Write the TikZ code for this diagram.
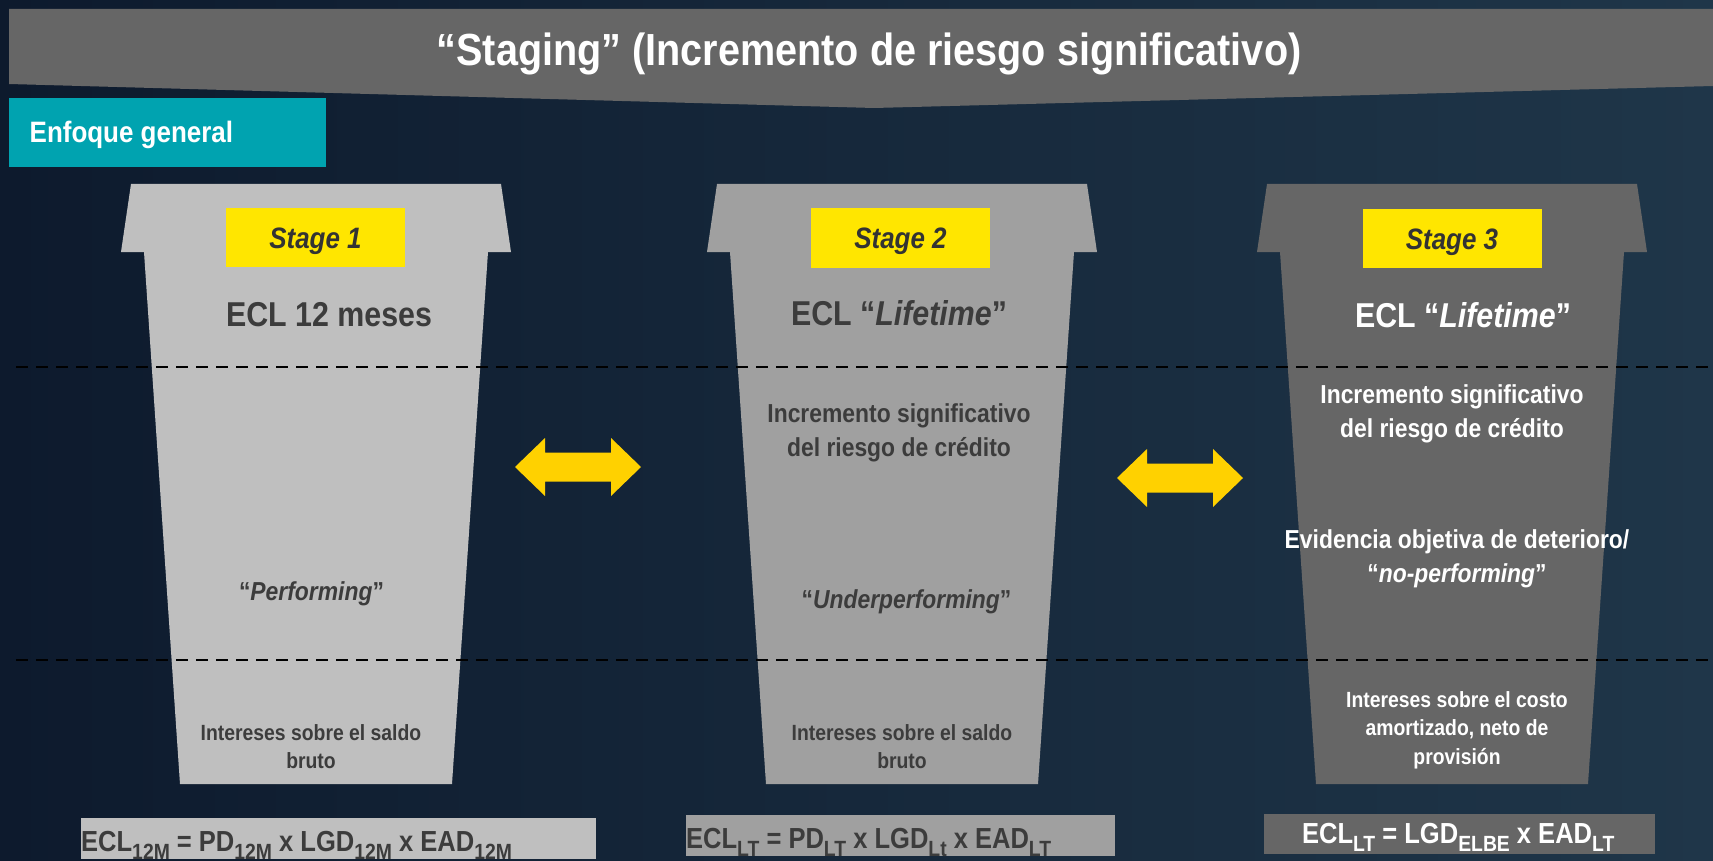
\documentclass[tikz,border=0pt]{standalone}
\usepackage{fontspec}
\setmainfont{Liberation Sans}[FakeStretch=0.88]
\usetikzlibrary{positioning,calc}
\definecolor{fondoA}{HTML}{0D1A2D}
\definecolor{fondoB}{HTML}{1F3649}
\definecolor{gris1}{HTML}{BFBFBF}
\definecolor{gris2}{HTML}{A0A0A0}
\definecolor{gris3}{HTML}{666666}
\definecolor{amarillo}{HTML}{FFE600}
\definecolor{flecha}{HTML}{FFD100}
\definecolor{turquesa}{HTML}{00A3B0}
\definecolor{oscuro}{HTML}{3C3C3C}
\newcommand{\sz}[2]{\fontsize{#1}{#2}\selectfont\bfseries}
\newcommand{\subtxt}[1]{\raisebox{-8pt}{\fontsize{22}{22}\selectfont #1}}
\newcommand{\vaso}[2]{\fill[#2] ({#1-185},184) -- ({#1+185},184) -- ({#1+195},252) -- ({#1+172},252) -- ({#1+136},784) -- ({#1-136},784) -- ({#1-172},252) -- ({#1-195},252) -- cycle;}
\newcommand{\flechas}[2]{\fill[flecha] ({#1-63},#2) -- ++(30,-29) -- ++(0,14.5) -- ++(66,0) -- ++(0,-14.5) -- ++(30,29) -- ++(-30,29) -- ++(0,-14.5) -- ++(-66,0) -- ++(0,14.5) -- cycle;}
\tikzstyle{etapa} = [fill=amarillo, minimum width=179pt, minimum height=59pt, inner sep=0pt, text height=21pt, text depth=0pt, font=\sz{29.5}{32}\itshape, text=oscuro!85!black]
\tikzstyle{ecl} = [font=\sz{34.5}{40}, anchor=base, inner sep=0pt]
\tikzstyle{txt} = [font=\sz{26}{34}, align=center, anchor=base, inner sep=0pt]
\tikzstyle{chico} = [font=\sz{22}{28.5}, align=center, anchor=base, inner sep=0pt]
\tikzstyle{corte} = [dash pattern=on 12pt off 8pt, line width=2.5pt, black]
\tikzstyle{formula} = [inner sep=0pt, anchor=north west]
\tikzstyle{ftxt} = [font=\sz{29}{30}, inner sep=0pt]
\begin{document}
\begin{tikzpicture}[x=1pt, y=-1pt]
	\useasboundingbox (0,0) rectangle (1713,861);
	\shade[left color=fondoA, right color=fondoB] (0,0) rectangle (1713,861);
	% banner
	\fill[gris3] (9,9) -- (1713,9) -- (1713,86) -- (874,108) -- (9,84) -- cycle;
	\node (titulo) [font=\sz{45}{50}, text=white, anchor=base, inner sep=0pt] at (869,66) {``Staging'' (Incremento de riesgo significativo)};
	\fill[turquesa] (9,98) rectangle (326,167);
	\node (enfoque) [font=\sz{29.5}{32}, text=white, anchor=base west, inner sep=0pt] at (29.5,143) {Enfoque general};
	% vasos
	\vaso{316}{gris1}
	\vaso{902}{gris2}
	\vaso{1452}{gris3}
	\draw[corte] (16,367) -- (1713,367);
	\draw[corte] (16,660) -- (1713,660);
	% stage 1
	\node (s1) [etapa] at (315.5,237.5) {Stage 1};
	\node (ecl1) [ecl, text=oscuro] at (329,326) {ECL 12 meses};
	\node (perf) [txt, text=oscuro] at (311.5,600) {``\textit{Performing}''};
	\node (int1) [chico, text=oscuro] at (311,768.5) {Intereses sobre el saldo\\bruto};
	% stage 2
	\node (s2) [etapa] at (900.5,238) {Stage 2};
	\node (ecl2) [ecl, text=oscuro] at (899,325) {ECL ``\textit{Lifetime}''};
	\node (inc2) [txt, text=oscuro] at (899,456) {Incremento significativo\\del riesgo de crédito};
	\node (under) [txt, text=oscuro] at (906.5,608) {``\textit{Underperforming}''};
	\node (int2) [chico, text=oscuro] at (902,768.5) {Intereses sobre el saldo\\bruto};
	% stage 3
	\node (s3) [etapa] at (1452,238.5) {Stage 3};
	\node (ecl3) [ecl, text=white] at (1463,327) {ECL ``\textit{Lifetime}''};
	\node (inc3) [txt, text=white] at (1452,437) {Incremento significativo\\del riesgo de crédito};
	\node (evid) [txt, text=white] at (1457,582) {Evidencia objetiva de deterioro/\\``\textit{no-performing}''};
	\node (int3) [chico, text=white] at (1457,764) {Intereses sobre el costo\\amortizado, neto de\\provisión};
	% flechas
	\flechas{578}{467}
	\flechas{1180}{478}
	% formulas
	\node (f1) [formula, fill=gris1, minimum width=515pt, minimum height=41pt] at (81,818) {};
	\node (e1) [ftxt, text=oscuro, anchor=base west] at ([yshift=8pt]f1.south west) {ECL\subtxt{12M} = PD\subtxt{12M} x LGD\subtxt{12M} x EAD\subtxt{12M}};
	\node (f2) [formula, fill=gris2, minimum width=429pt, minimum height=41pt] at (686,815) {};
	\node (e2) [ftxt, text=oscuro, anchor=base west] at ([yshift=8pt]f2.south west) {ECL\subtxt{LT} = PD\subtxt{LT} x LGD\subtxt{Lt} x EAD\subtxt{LT}};
	\node (f3) [formula, fill=gris3, minimum width=391pt, minimum height=40pt] at (1264,814) {};
	\node (e3) [ftxt, text=white, anchor=base] at ([xshift=-1.5pt, yshift=11pt]f3.south) {ECL\subtxt{LT} = LGD\subtxt{ELBE} x EAD\subtxt{LT}};
\end{tikzpicture}
\end{document}
